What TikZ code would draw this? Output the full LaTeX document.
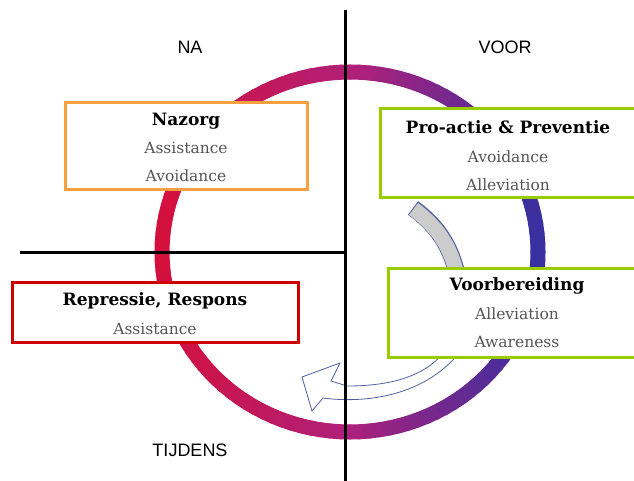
\documentclass[tikz,border=0pt]{standalone}
\usepackage{fontspec}
\setmainfont{DejaVu Serif}
\newfontfamily\labfont{Liberation Sans}
\definecolor{ringred}{HTML}{D4103C}
\definecolor{ringmag}{HTML}{B0207A}
\definecolor{ringblue}{HTML}{3830A0}
\definecolor{boxorange}{HTML}{F7A040}
\definecolor{boxgreen}{HTML}{99CC00}
\definecolor{boxred}{HTML}{D00000}
\definecolor{arrowedge}{HTML}{5060A0}
\definecolor{arrowgrey}{HTML}{CCCCCC}
\definecolor{subtext}{HTML}{555555}
\tikzset{
  boxstyle/.style={draw, line width=3pt, fill=white, inner sep=0pt},
  titletext/.style={font=\fontsize{17}{19}\selectfont\bfseries, text=black},
  itemtext/.style={font=\fontsize{15.5}{18}\selectfont, text=subtext},
  phase/.style={font=\labfont\fontsize{18}{20}\selectfont, text=black},
  axis/.style={line width=3pt, black},
}
\begin{document}
\begin{tikzpicture}[x=1pt,y=-1pt]
\useasboundingbox (0,0) rectangle (634,481);
% ring
\foreach \a in {0,3,...,357}{
  \pgfmathsetmacro\c{cos(\a+1.5)}
  \pgfmathsetmacro\pr{max(0,-\c)*100}
  \pgfmathsetmacro\q{100-max(0,\c)*100}
  \draw[line width=15pt, line cap=round, draw=ringred!\pr!ringmag!\q!ringblue]
    ({350+188*cos(\a)},{252-180*sin(\a)}) -- ({350+188*cos(\a+3)},{252-180*sin(\a+3)});
}
% grey arrow
\draw[line width=17pt, arrowedge] (413,208) .. controls (435,224) and (452,245) .. (458,280);
\draw[line width=15pt, arrowgrey] (413.5,209) .. controls (435,225) and (452,245) .. (458,281);
% white arrow
\draw[fill=white, draw=arrowedge, line width=0.8pt]
  (446,350) .. controls (425,377) and (390,386) .. (347,386) -- (331,381) -- (340,363)
  -- (302,377) -- (312,411) -- (323,398) .. controls (360,403) and (422,399) .. (460,352) -- cycle;
% axes
\coordinate (vtop) at (345,10);
\coordinate (vbot) at (345,481);
\coordinate (hl) at (20,252);
\coordinate (hr) at (345,252);
\draw[axis] (vtop) -- (vbot);
\draw[axis] (hl) -- (hr);
% phase labels
\node[phase] (na) at (190,47) {NA};
\node[phase] (voor) at (505,47) {VOOR};
\node[phase] (tijdens) at (190,450) {TIJDENS};
% boxes
\node[boxstyle, draw=boxorange, minimum width=242pt, minimum height=87pt] (nazorg) at (186,146.5) {};
\node[titletext] (t1) at (186,121) {Nazorg};
\node[itemtext] (t1a) at (186,148) {Assistance};
\node[itemtext] (t1b) at (186,176) {Avoidance};

\node[boxstyle, draw=boxgreen, minimum width=270pt, minimum height=89pt] (proactie) at (515,153.5) {};
\node[titletext] (t2) at (508,127) {Pro-actie \& Preventie};
\node[itemtext] (t2a) at (508,157) {Avoidance};
\node[itemtext] (t2b) at (508,185) {Alleviation};

\node[boxstyle, draw=boxred, minimum width=286pt, minimum height=60pt] (repressie) at (155,312) {};
\node[titletext] (t3) at (155,301) {Repressie, Respons};
\node[itemtext] (t3a) at (155,329) {Assistance};

\node[boxstyle, draw=boxgreen, minimum width=262pt, minimum height=89pt] (voorb) at (519,312.5) {};
\node[titletext] (t4) at (517,286) {Voorbereiding};
\node[itemtext] (t4a) at (517,314) {Alleviation};
\node[itemtext] (t4b) at (517,342) {Awareness};
\end{tikzpicture}
\end{document}
